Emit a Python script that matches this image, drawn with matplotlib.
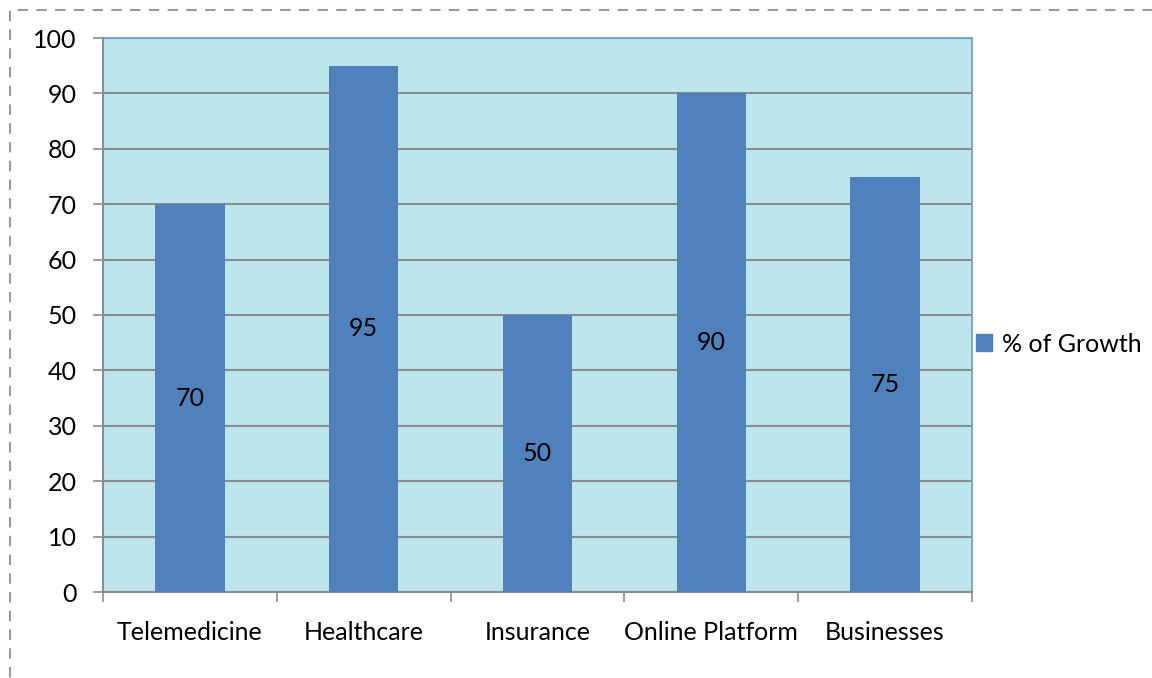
import numpy as np
import matplotlib.pyplot as plt
import matplotlib.patches as patches

categories = ['Telemedicine', 'Healthcare', 'Insurance', 'Online Platform', 'Businesses']
growth = [70, 95, 50, 90, 75]
series_name = '% of Growth'
y_ticks = list(range(0, 101, 10))

plt.rcParams['font.family'] = ['Lato', 'DejaVu Sans']

bar_color = '#4F81BD'
grid_color = '#8C8C8C'
fs = 18

fig = plt.figure(figsize=(11.52, 6.78), dpi=100)
ax = fig.add_axes([103/1152, 1 - 592/678, (972-103)/1152, (592-38)/678])

# watery background, flat approximation
ax.set_facecolor('#BCE5EE')

x = np.arange(len(categories))
ax.bar(x, growth, width=0.4, color=bar_color, zorder=3, label=series_name)

for xi, v in zip(x, growth):
    ax.text(xi, v/2, str(v), ha='center', va='center', fontsize=fs, color='black', zorder=4)

ax.set_xlim(-0.5, len(categories) - 0.5)
ax.set_ylim(0, 100)
ax.set_yticks(y_ticks)
ax.set_yticklabels([str(t) for t in y_ticks], fontsize=fs)
ax.yaxis.grid(True, color=grid_color, linewidth=1.5, zorder=1)
ax.set_axisbelow(True)

# category labels at centres, tick marks at boundaries
ax.set_xticks(x)
ax.set_xticklabels(categories, fontsize=fs)
ax.tick_params(axis='x', which='major', length=0, pad=21)
ax.set_xticks(np.arange(-0.5, len(categories)), minor=True)
ax.tick_params(axis='x', which='minor', length=7, color=grid_color, width=1.2)
ax.tick_params(axis='y', length=7, color=grid_color, width=1.2, pad=12)

for side in ['left', 'bottom']:
    ax.spines[side].set_color(grid_color)
    ax.spines[side].set_linewidth(1.5)
for side in ['top', 'right']:
    ax.spines[side].set_color('#6A9BD8')
    ax.spines[side].set_linewidth(1.2)

handle = patches.Patch(color=bar_color, label=series_name)
fig.legend(handles=[handle], loc='center left', bbox_to_anchor=(976/1152, 1 - 344/678),
           frameon=False, fontsize=fs, handlelength=0.65, handleheight=0.65, handletextpad=0.4,
           borderpad=0, borderaxespad=0)

# dashed outer frame
frame = patches.Rectangle((10/1152, -0.05), 1.1, 1 - 10/678 + 0.05, transform=fig.transFigure,
                          fill=False, edgecolor='#9A9A9A', linewidth=1.5, linestyle=(0, (5, 4)))
fig.patches.append(frame)

fig.savefig('out.png', dpi=100)
